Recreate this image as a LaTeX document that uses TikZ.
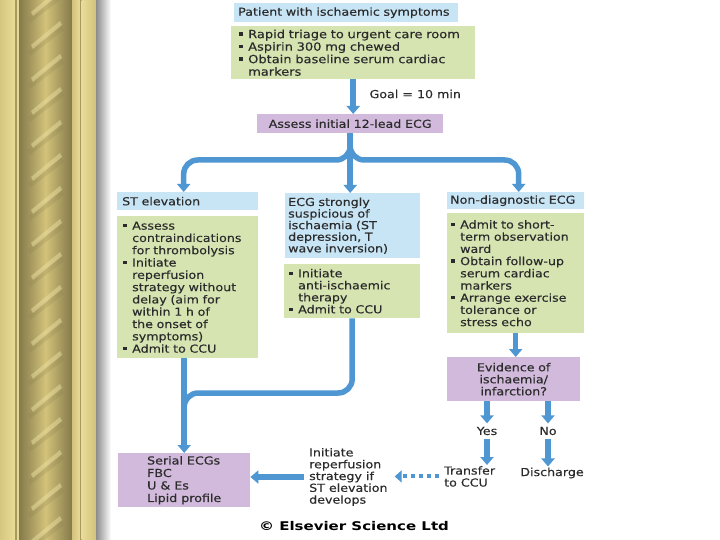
\documentclass[tikz,border=0pt]{standalone}
\usepackage{fontspec}
\setmainfont{DejaVu Sans}[FakeStretch=1.15,FakeBold=0.3]
\newfontfamily\cpfont{DejaVu Sans}[FakeStretch=1.25]
\usetikzlibrary{arrows.meta}
\definecolor{hblue}{HTML}{C8E5F6}
\definecolor{bgreen}{HTML}{D6E4B2}
\definecolor{bpurple}{HTML}{D2BADC}
\definecolor{abl}{HTML}{4F97D3}
\definecolor{txt}{HTML}{2B2B2B}
\definecolor{goldA}{HTML}{D6C77F}
\definecolor{goldB}{HTML}{E8DC98}
\definecolor{goldLine}{HTML}{A89A5C}
\definecolor{goldLight}{HTML}{E6DA96}
\definecolor{ropeDark}{HTML}{857A4A}
\definecolor{ropeLight}{HTML}{D2C27A}
\definecolor{ropeHigh}{HTML}{EFE4A6}
\definecolor{goldMid}{HTML}{D2C27C}
\definecolor{shadowGray}{HTML}{8C8C8C}
\newcommand\bu{\makebox[9pt][l]{\rule[2.4pt]{3.4pt}{3.4pt}}}
\newcommand\ci{\hspace*{9pt}}
\begin{document}
\begin{tikzpicture}[x=1pt,y=-1pt,
  every node/.style={font=\fontsize{11}{12.3}\selectfont, text=txt},
  box/.style={anchor=north west, inner ysep=0pt, align=left},
  arr/.style={draw=abl, line width=5.5pt, -{Triangle[width=13pt,length=8pt]}},
  plainline/.style={draw=abl, line width=5.5pt},
  dotarr/.style={draw=abl, line width=4pt, dash pattern=on 4pt off 4pt, -{Triangle[width=12pt,length=7pt]}}]
\useasboundingbox (0,0) rectangle (720,540);
\fill[white] (0,0) rectangle (720,540);
% decorative left border
\shade[left color=goldA, right color=goldB] (0,0) rectangle (15,540);
\fill[goldLine] (15,0) rectangle (16.5,540);
\fill[goldLight] (16.5,0) rectangle (19,540);
\begin{scope}
  \clip (19,0) rectangle (72,540);
  \shade[left color=ropeDark, right color=ropeDark, middle color=ropeLight] (19,0) rectangle (72,540);
  \foreach \y in {-40,-7,...,590} {
    \fill[ropeDark, opacity=0.2] (28,\y+25) -- (62,\y-1) -- (64,\y+4) -- (30,\y+30) -- cycle;
    \fill[ropeHigh, opacity=0.45] (31,\y+19) -- (60,\y-5) -- (62,\y-1) -- (33,\y+23) -- cycle;
  }
\end{scope}
\shade[left color=goldMid, right color=goldB] (72,0) rectangle (80,540);
\fill[goldLine] (80,0) rectangle (81.5,540);
\shade[left color=goldB, right color=goldMid] (81.5,0) rectangle (96,540);
\shade[left color=shadowGray, right color=white] (96,0) rectangle (111,540);

% boxes
\node[box, fill=hblue, inner xsep=4pt, text width=216pt, minimum height=19pt] (h1) at (234,3) {\mbox{Patient with ischaemic symptoms}};
\node[box, fill=bgreen, inner xsep=8pt, text width=228pt, minimum height=53pt, font=\fontsize{11.3}{12.5}\selectfont] (g1) at (231,26)
  {\bu Rapid triage to urgent care room\\ \bu Aspirin 300 mg chewed\\ \bu Obtain baseline serum cardiac\\ \ci markers};
\node[box, fill=bpurple, inner xsep=5pt, text width=176pt, minimum height=19pt, align=center] (p1) at (257,114) {Assess initial 12-lead ECG};

\node[box, fill=hblue, inner xsep=5pt, text width=131pt, minimum height=18pt] (hST) at (117,192) {ST elevation};
\node[box, fill=bgreen, inner xsep=6pt, text width=129pt, minimum height=142pt] (gST) at (117,216)
  {\bu Assess\\ \ci contraindications\\ \ci for thrombolysis\\ \bu Initiate\\ \ci reperfusion\\ \ci strategy without\\ \ci delay (aim for\\ \ci within 1 h of\\ \ci the onset of\\ \ci symptoms)\\ \bu Admit to CCU};

\node[box, fill=hblue, inner xsep=3pt, text width=129pt, minimum height=65pt, font=\fontsize{11}{11.6}\selectfont] (hECG) at (285,193)
  {ECG strongly\\ suspicious of\\ ischaemia (ST\\ depression, T\\ wave inversion)};
\node[box, fill=bgreen, inner xsep=5pt, text width=126pt, minimum height=54pt, font=\fontsize{11}{12}\selectfont] (gECG) at (284,264)
  {\bu Initiate\\ \ci anti-ischaemic\\ \ci therapy\\ \bu Admit to CCU};

\node[box, fill=hblue, inner xsep=3pt, text width=131pt, minimum height=17pt] (hND) at (447,192) {Non-diagnostic ECG};
\node[box, fill=bgreen, inner xsep=4pt, text width=129pt, minimum height=120pt, font=\fontsize{11}{12.2}\selectfont] (gND) at (447,213)
  {\bu Admit to short-\\ \ci term observation\\ \ci ward\\ \bu Obtain follow-up\\ \ci serum cardiac\\ \ci markers\\ \bu Arrange exercise\\ \ci tolerance or\\ \ci stress echo};
\node[box, fill=bpurple, inner xsep=4pt, text width=125pt, minimum height=44pt, align=center, font=\fontsize{11}{12}\selectfont] (pEv) at (447,357)
  {Evidence of\\ ischaemia/\\ infarction?};

\node[box, fill=bpurple, inner xsep=0pt, minimum width=132pt, minimum height=54pt, font=\fontsize{11}{12.5}\selectfont] (pSer) at (118,453)
  {Serial ECGs\\ FBC\\ U \& Es\\ Lipid profile};

% free labels
\node[anchor=west] (goal) at (366,94) {Goal = 10 min};
\node (yes) at (487,431) {Yes};
\node (no) at (548,431) {No};
\node[anchor=north west, align=left, inner sep=1pt, font=\fontsize{11}{12}\selectfont] (tr) at (443,465) {Transfer\\to CCU};
\node[inner sep=1pt] (dis) at (552,473) {Discharge};
\node[anchor=west, align=left, inner sep=1pt, font=\fontsize{11}{11.8}\selectfont] (init) at (308,477)
  {Initiate\\reperfusion\\strategy if\\ST elevation\\develops};
\node[font=\cpfont\bfseries\fontsize{12}{14}\selectfont, text=black] (cp) at (354,526) {© Elsevier Science Ltd};

% connectors
\draw[arr] (g1.south) -- (g1.south |- p1.north);
\draw[arr, rounded corners=14pt] (p1.south) -- (p1.south |- 0,160) -| ([xshift=-4pt]hST.north);
\draw[arr, rounded corners=14pt] (p1.south) -- (p1.south |- 0,160) -| ([xshift=3pt]hND.north);
\draw[arr] (p1.south) -- (p1.south |- hECG.north);
\draw[arr] (gND.south) -- (gND.south |- pEv.north);
\draw[arr] (pEv.south -| yes) -- (yes.north);
\draw[arr] (yes.south) -- (yes.south |- tr.north);
\draw[arr] (pEv.south -| no) -- (no.north);
\draw[arr] (no.south) -- (no.south |- dis.north);
\draw[dotarr] ([xshift=-4pt]tr.west) -- ([xshift=6pt]init.east |- tr.west);
\draw[arr] ([xshift=-4pt]init.west) -- (pSer.east |- init.west);
\draw[plainline, rounded corners=14pt] (gECG.south) -- (gECG.south |- 0,393) -| (pSer.north |- 0,420);
\draw[arr] (pSer.north |- gST.south) -- (pSer.north);
\end{tikzpicture}
\end{document}
